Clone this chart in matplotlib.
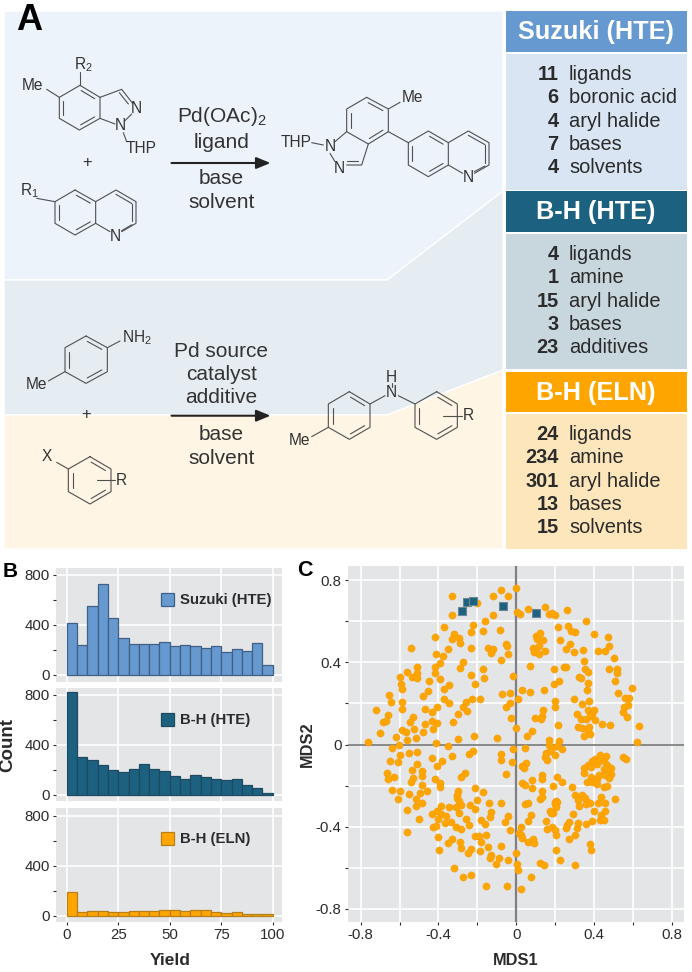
import matplotlib
matplotlib.use('Agg')
from matplotlib import pyplot as plt
from matplotlib.patches import Polygon, Rectangle
import numpy as np

plt.rcParams['font.family'] = ['Liberation Sans', 'DejaVu Sans']
plt.rcParams['mathtext.default'] = 'regular'

W, H = 692, 972
INK = '#2b2b2b'
SUZUKI, BH, ELN = '#6699CF', '#1C6180', '#FFA500'

# histogram counts, 5-wide yield bins
yield_edges = list(range(0, 100, 5))
suzuki_counts = [416, 237, 555, 731, 459, 299, 245, 250, 250, 261, 229, 237, 232, 216, 229, 181, 205, 195, 256, 83]
bh_counts = [820, 298, 279, 236, 197, 185, 209, 244, 209, 191, 147, 128, 153, 137, 126, 113, 128, 80, 51, 16]
eln_counts = [190, 29, 35, 40, 27, 29, 35, 35, 40, 45, 48, 37, 48, 45, 32, 19, 32, 16, 16, 16]

# MDS coordinates
bh_points = [(-0.28, 0.65), (-0.255, 0.695), (-0.22, 0.70), (-0.07, 0.675), (0.10, 0.64)]
eln_points = [
    (-0.76, 0.01), (-0.33, 0.72), (-0.08, 0.75), (0, 0.76), (-0.12, 0.72), (-0.04, 0.72), (-0.20, 0.69),
    (-0.33, 0.63), (-0.12, 0.63), (0.005, 0.645), (0.02, 0.635), (0.06, 0.66), (0.15, 0.67), (0.17, 0.635),
    (0.185, 0.64), (0.20, 0.63), (0.26, 0.655), (0.36, 0.60), (-0.16, 0.60), (-0.22, 0.58), (-0.37, 0.57),
    (-0.17, 0.55), (-0.085, 0.555), (-0.23, 0.545), (-0.32, 0.535), (-0.295, 0.52), (-0.33, 0.515),
    (-0.29, 0.495), (-0.42, 0.525), (-0.23, 0.47), (-0.54, 0.47), (-0.35, 0.465), (-0.145, 0.47),
    (-0.12, 0.465), (-0.13, 0.445), (-0.055, 0.49), (-0.045, 0.48), (-0.04, 0.44), (-0.415, 0.44),
    (-0.375, 0.43), (-0.077, 0.41), (-0.275, 0.40), (-0.39, 0.395), (-0.29, 0.37), (-0.42, 0.375),
    (-0.42, 0.35), (-0.51, 0.375), (-0.56, 0.355), (-0.51, 0.35), (-0.535, 0.33), (-0.51, 0.325),
    (-0.60, 0.33), (-0.45, 0.31), (-0.39, 0.32), (-0.23, 0.34), (-0.17, 0.365), (-0.165, 0.325),
    (-0.015, 0.335), (-0.595, 0.295), (-0.59, 0.27), (-0.21, 0.295), (-0.345, 0.29), (-0.37, 0.27),
    (-0.455, 0.26), (-0.655, 0.24), (-0.48, 0.235), (-0.645, 0.205), (-0.59, 0.205), (-0.585, 0.175),
    (-0.47, 0.175), (-0.72, 0.17), (-0.405, 0.18), (-0.37, 0.22), (-0.345, 0.20), (-0.225, 0.22),
    (-0.185, 0.22), (-0.26, 0.205), (-0.275, 0.18), (-0.255, 0.165), (-0.30, 0.15), (-0.075, 0.245),
    (-0.03, 0.25), (0.03, 0.265), (0.07, 0.255), (0.145, 0.265), (0.01, 0.22), (-0.03, 0.20),
    (-0.055, 0.18), (-0.025, 0.13), (-0.435, 0.16), (-0.66, 0.145), (-0.685, 0.11), (-0.67, 0.115),
    (-0.53, 0.135), (-0.545, 0.11), (-0.435, 0.115), (-0.41, 0.105), (-0.47, 0.10), (-0.325, 0.11),
    (-0.70, 0.055), (-0.585, 0.07), (-0.565, 0.06), (-0.525, 0.075), (-0.48, 0.06), (-0.43, 0.075),
    (-0.62, 0.035), (-0.515, 0.03), (-0.56, 0.02), (-0.215, 0.04), (-0.30, 0.025), (-0.10, 0.03),
    (0, 0.08), (0.08, 0.065), (0.055, 0.04), (0.135, 0.14), (0.095, 0.13), (0.14, 0.17), (0.13, 0.125),
    (0.215, 0.095), (0.20, 0.18), (0.20, 0.21), (0.295, 0.22), (0.22, 0.31), (0.195, 0.295),
    (0.195, 0.365), (0.07, 0.38), (0.245, 0.375), (0.255, 0.375), (0.325, 0.33), (0.335, 0.325),
    (0.35, 0.405), (0.355, 0.365), (0.37, 0.355), (0.37, 0.30), (0.365, 0.265), (0.375, 0.21),
    (0.34, 0.195), (0.37, 0.17), (0.40, 0.17), (0.39, 0.15), (0.315, 0.15), (0.335, 0.125), (0.36, 0.125),
    (0.38, 0.14), (0.405, 0.12), (0.32, 0.085), (0.34, 0.08), (0.375, 0.085), (0.37, 0.065), (0.35, 0.04),
    (0.38, 0.05), (0.44, 0.10), (0.485, 0.095), (0.63, 0.09), (0.62, 0.01), (0.57, 0.135), (0.55, 0.16),
    (0.555, 0.18), (0.575, 0.19), (0.56, 0.225), (0.58, 0.225), (0.595, 0.275), (0.525, 0.25), (0.51, 0.31),
    (0.52, 0.365), (0.52, 0.35), (0.475, 0.365), (0.505, 0.42), (0.455, 0.455), (0.42, 0.455), (0.475, 0.48),
    (0.47, 0.525), (0.40, 0.535), (0.345, 0.46), (0.305, 0.545), (0.28, 0.55), (0.265, 0.575), (0.215, 0.57),
    (0.225, 0.51), (0.275, 0.49), (0.255, 0.465), (0.295, 0.45), (0.10, 0.53), (0.125, 0.54), (0.105, 0.515),
    (0.14, 0.51), (0.115, 0.48), (0.085, 0.47), (0.095, 0.465), (0.09, 0.45), (0.115, 0.44), (0.147, 0.455),
    (0.17, 0.02), (0.22, 0.015), (0.17, 0), (0.21, -0.005), (0.235, -0.02), (0.185, -0.015), (0.175, -0.03),
    (0.155, -0.04), (0.20, -0.05), (0.147, -0.06), (0.16, -0.075), (-0.64, -0.015), (-0.605, 0), (-0.51, -0.035),
    (-0.55, -0.04), (-0.60, -0.05), (-0.415, 0.005), (-0.35, -0.005), (-0.015, -0.02), (0.045, -0.015),
    (-0.22, -0.03), (-0.245, -0.045), (-0.33, -0.055), (-0.435, -0.065), (-0.08, -0.045),
    (-0.65, -0.08), (-0.61, -0.085), (-0.51, -0.095), (-0.405, -0.105), (-0.38, -0.08), (-0.535, -0.125),
    (-0.485, -0.13), (-0.665, -0.14), (-0.63, -0.16), (-0.66, -0.17), (-0.53, -0.165), (-0.54, -0.18),
    (-0.485, -0.155), (-0.485, -0.195), (-0.42, -0.17), (-0.39, -0.185), (-0.39, -0.205), (-0.285, -0.16),
    (-0.265, -0.14), (-0.05, -0.145), (-0.08, -0.075), (-0.02, -0.085), (0.03, -0.105), (0.05, -0.09),
    (0.04, -0.115), (0.135, -0.15), (0.135, -0.17), (0.03, -0.185), (0.045, -0.195), (0.08, -0.175),
    (0.08, -0.21), (0.21, -0.16), (0.235, -0.18), (0.19, -0.20), (0.285, -0.205), (-0.64, -0.22), (-0.60, -0.225),
    (-0.55, -0.24), (-0.495, -0.235), (-0.46, -0.225), (-0.61, -0.265), (-0.515, -0.265), (-0.485, -0.285),
    (-0.515, -0.30), (-0.56, -0.32), (-0.50, -0.36), (-0.56, -0.425), (-0.435, -0.34), (-0.41, -0.325),
    (-0.385, -0.30), (-0.385, -0.34), (-0.40, -0.36), (-0.36, -0.35), (-0.365, -0.38), (-0.335, -0.375),
    (-0.43, -0.40), (-0.415, -0.395), (-0.345, -0.305), (-0.31, -0.305), (-0.295, -0.335), (-0.285, -0.295),
    (-0.30, -0.225), (-0.305, -0.245), (-0.305, -0.26), (-0.295, -0.275), (-0.31, -0.40), (-0.285, -0.41),
    (-0.26, -0.36), (-0.245, -0.39), (-0.24, -0.295), (-0.21, -0.315), (-0.20, -0.27), (-0.21, -0.21),
    (-0.17, -0.23), (-0.14, -0.285), (-0.08, -0.285), (-0.13, -0.33), (-0.135, -0.355), (-0.18, -0.365),
    (-0.16, -0.385), (-0.06, -0.375), (-0.04, -0.35), (-0.03, -0.415), (-0.40, -0.45), (-0.33, -0.46),
    (-0.35, -0.48), (-0.395, -0.515), (-0.29, -0.475), (-0.285, -0.505), (-0.23, -0.51), (-0.25, -0.53),
    (-0.21, -0.445), (-0.19, -0.445), (-0.155, -0.44), (-0.18, -0.475), (-0.185, -0.52), (-0.145, -0.50),
    (-0.08, -0.495), (-0.13, -0.535), (-0.135, -0.55), (-0.09, -0.55), (-0.04, -0.56), (-0.105, -0.58),
    (-0.32, -0.60), (0, -0.53), (0.005, -0.58), (0.01, -0.61), (-0.275, -0.645), (-0.23, -0.635),
    (-0.155, -0.69), (-0.045, -0.69), (0.025, -0.705), (0.075, -0.645), (0.025, -0.40), (0.015, -0.43),
    (0.025, -0.44), (0.03, -0.455), (0.06, -0.475), (0.085, -0.46), (0.09, -0.48), (0.06, -0.37),
    (0.075, -0.345), (0.045, -0.29), (0.06, -0.285), (0.125, -0.265), (0.135, -0.255), (0.135, -0.225),
    (0.205, -0.275), (0.20, -0.28), (0.21, -0.28), (0.20, -0.29), (0.205, -0.305), (0.175, -0.325),
    (0.19, -0.335), (0.18, -0.335), (0.155, -0.37), (0.16, -0.41), (0.185, -0.40), (0.20, -0.415),
    (0.205, -0.44), (0.205, -0.515), (0.225, -0.56), (0.125, -0.575), (0.145, -0.585), (0.30, -0.585),
    (0.27, -0.46), (0.305, -0.44), (0.315, -0.405), (0.32, -0.38), (0.27, -0.375), (0.26, -0.39),
    (0.255, -0.405), (0.29, -0.34), (0.36, -0.385), (0.39, -0.37), (0.38, -0.485), (0.385, -0.515),
    (0.30, -0.245), (0.34, -0.245), (0.32, -0.27), (0.355, -0.26), (0.325, -0.30), (0.365, -0.28),
    (0.36, -0.29), (0.38, -0.285), (0.42, -0.285), (0.40, -0.325), (0.435, -0.255), (0.455, -0.285),
    (0.51, -0.265), (0.455, -0.325), (0.435, -0.345), (0.43, -0.365), (0.45, -0.365),
    (0.35, -0.115), (0.35, -0.14), (0.37, -0.10), (0.39, -0.08), (0.385, -0.11), (0.405, -0.07),
    (0.415, -0.095), (0.43, -0.05), (0.42, -0.08), (0.46, -0.055), (0.45, -0.08), (0.465, -0.10),
    (0.49, -0.115), (0.45, -0.12), (0.465, -0.13), (0.49, -0.145), (0.455, -0.15), (0.475, -0.165),
    (0.385, -0.16), (0.365, -0.18), (0.39, -0.18), (0.415, -0.17), (0.425, -0.15), (0.415, -0.19),
    (0.45, -0.205), (0.465, -0.20), (0.55, -0.06), (0.565, -0.07),
]

# side tables
suzuki_numbers = ['11', '6', '4', '7', '4']
suzuki_labels = ['ligands', 'boronic acid', 'aryl halide', 'bases', 'solvents']
bh_numbers = ['4', '1', '15', '3', '23']
bh_labels = ['ligands', 'amine', 'aryl halide', 'bases', 'additives']
eln_numbers = ['24', '234', '301', '13', '15']
eln_labels = ['ligands', 'amine', 'aryl halide', 'bases', 'solvents']

fig = plt.figure(figsize=(W / 100, H / 100), dpi=100, facecolor='white')


def axes_px(x0, y0, x1, y1):
    return fig.add_axes([x0 / W, 1 - y1 / H, (x1 - x0) / W, (y1 - y0) / H])


def style(ax):
    ax.set_facecolor('#E4E5E7')
    for s in ax.spines.values():
        s.set_visible(False)
    ax.set_axisbelow(True)
    ax.grid(True, which='major', color='white', lw=1.2)
    ax.tick_params(which='both', length=2.5, width=0.8, color=INK, labelcolor=INK, labelsize=10.8, pad=2)


# panel B
hist_rows = [
    (568, 682, -56, 856, suzuki_counts, SUZUKI, '#3F5F85'),
    (688, 801, -52, 856, bh_counts, BH, '#1D4A60'),
    (808, 922, -50, 864, eln_counts, ELN, '#B67F1C'),
]
for i, (top, bottom, ylo, yhi, counts, colour, edge) in enumerate(hist_rows):
    ax = axes_px(56, top, 282, bottom)
    style(ax)
    ax.bar(yield_edges, counts, width=5, align='edge', color=colour, edgecolor=edge, lw=0.9)
    ax.set_xlim(-5.2, 104.5)
    ax.set_ylim(ylo, yhi)
    ax.set_yticks([0, 400, 800])
    ax.set_yticks([200, 600], minor=True)
    ax.grid(False, which='minor')
    ax.set_xticks([0, 25, 50, 75, 100])
    if i < 2:
        ax.tick_params(axis='x', length=0, labelbottom=False)

# panel C
ax = axes_px(347.7, 566, 684, 922)
style(ax)
ax.set_xlim(-0.8 - 13 * 0.8 / 155.5, 0.8 + 12.3 * 0.8 / 155.5)
ax.set_ylim(-0.8 - 13 * 0.8 / 164.5, 0.8 + 14 * 0.8 / 164.5)
major = [-0.8, -0.4, 0, 0.4, 0.8]
minor = [-0.6, -0.2, 0.2, 0.6]
ax.set_xticks(major, ['-0.8', '-0.4', '0', '0.4', '0.8'])
ax.set_yticks(major, ['-0.8', '-0.4', '0', '0.4', '0.8'])
ax.set_xticks(minor, minor=True)
ax.set_yticks(minor, minor=True)
ax.grid(True, which='minor', color='white', lw=1.2)
ax.axhline(0, color='#808080', lw=1.3, zorder=1.5)
ax.axvline(0, color='#808080', lw=1.6, zorder=1.5)
ax.scatter(*zip(*eln_points), s=27, color=ELN, edgecolors='#F09A10', lw=0.3, zorder=3)
ax.scatter(*zip(*bh_points), s=38, marker='s', color=BH, edgecolors='#6F8793', lw=0.8, zorder=4)

# everything in pixel coordinates: panel A, labels, swatches
px = fig.add_axes([0, 0, 1, 1], zorder=5)
px.set_xlim(0, W)
px.set_ylim(H, 0)
px.axis('off')
px.patch.set_alpha(0)

backgrounds = [
    ('#EDF3FB', [(4, 11), (503, 11), (503, 191), (387, 280), (4, 280)]),
    ('#E5EDF2', [(4, 280), (387, 280), (503, 191), (503, 370), (387, 415), (4, 415)]),
    ('#FEF5E4', [(4, 415), (387, 415), (503, 370), (503, 549), (4, 549)]),
]
for colour, verts in backgrounds:
    px.add_patch(Polygon(verts, closed=True, fc=colour, ec='white', lw=1))

tables = [
    (11, 52, 54, 190, SUZUKI, '#D9E5F3', 'Suzuki (HTE)', suzuki_numbers, suzuki_labels),
    (191, 232, 234, 369, BH, '#C8D6DE', 'B-H (HTE)', bh_numbers, bh_labels),
    (372, 412, 414, 549, ELN, '#FDE6BC', 'B-H (ELN)', eln_numbers, eln_labels),
]
for head_top, head_bot, body_top, body_bot, head_c, body_c, title, numbers, labels in tables:
    px.add_patch(Rectangle((505.5, head_top), 181, head_bot - head_top, fc=head_c, ec='none'))
    px.add_patch(Rectangle((505.5, body_top), 181, body_bot - body_top, fc=body_c, ec='none'))
    px.text(596, (head_top + head_bot) / 2 + 0.5, title, color='white', fontsize=18.2, fontweight='bold',
            ha='center', va='center')
    for j, (num, lab) in enumerate(zip(numbers, labels)):
        y = body_top + 20.5 + j * 23.3
        px.text(558.5, y, num, color=INK, fontsize=14.4, fontweight='bold', ha='right', va='center')
        px.text(569, y, lab, color=INK, fontsize=14.4, ha='left', va='center')


# structures are drawn in a 3x working grid, matching crops of the panel
def seg(pts, oy=0, lw=0.8):
    px.plot([p[0] / 3 for p in pts], [p[1] / 3 + oy for p in pts], color='#505050', lw=lw, solid_capstyle='round')


def ring(verts, doubles, oy=0):
    seg(list(verts) + [verts[0]], oy)
    cx = np.mean([v[0] for v in verts])
    cy = np.mean([v[1] for v in verts])
    for i in doubles:
        a, b = np.array(verts[i], float), np.array(verts[(i + 1) % len(verts)], float)
        c = np.array([cx, cy])
        a2 = a + (c - a) * 0.2
        b2 = b + (c - b) * 0.2
        m = (a2 + b2) / 2
        a2 = m + (a2 - m) * 0.85
        b2 = m + (b2 - m) * 0.85
        seg([a2, b2], oy)


def atom(x, y, s, oy=0, size=11.2):
    px.text(x / 3, y / 3 + oy, s, color='#333333', fontsize=size, ha='center', va='center')


# reaction 1, indazole
ring([(240, 256), (300, 292), (300, 355), (238, 390), (178, 355), (178, 292)], [0, 2, 4])
seg([(178, 292), (140, 268)])
seg([(240, 256), (240, 215)])
seg([(300, 292), (365, 268), (398, 310)])
seg([(358, 278), (385, 312)])
seg([(300, 355), (345, 372)])
seg([(395, 342), (375, 362)])
seg([(370, 398), (380, 425)])
atom(97, 257, 'Me')
atom(250, 193, 'R$_2$')
atom(408, 325, 'N')
atom(362, 378, 'N')
atom(423, 445, 'THP')
atom(260, 487, '+', size=12)
# reaction 1, quinoline
ring([(225, 570), (287, 605), (287, 670), (225, 705), (165, 670), (165, 605)], [0, 2, 4])
seg([(287, 605), (348, 570), (408, 605), (408, 670), (365, 695)])
seg([(348, 583), (396, 611)])
seg([(396, 613), (396, 662)])
seg([(396, 674), (365, 692)])
seg([(287, 670), (330, 695)])
seg([(110, 595), (165, 605)])
atom(88, 573, 'R$_1$')
atom(347, 708, 'N')
# reaction 1, product
ring([(1100, 292), (1165, 327), (1165, 395), (1105, 432), (1040, 395), (1040, 327)], [0, 2, 4])
seg([(1165, 327), (1200, 307)])
seg([(1105, 432), (1085, 495), (1040, 495)])
seg([(1075, 482), (1040, 482)])
seg([(1040, 395), (1005, 425)])
seg([(935, 428), (970, 435)])
seg([(990, 460), (1005, 485)])
seg([(1165, 395), (1225, 428)])
ring([(1225, 428), (1285, 393), (1345, 428), (1345, 495), (1285, 530), (1225, 495)], [1, 3, 5])
seg([(1345, 428), (1405, 393), (1467, 428), (1467, 495), (1423, 520)])
seg([(1405, 406), (1455, 434)])
seg([(1455, 436), (1455, 488)])
seg([(1455, 498), (1423, 515)])
seg([(1345, 495), (1388, 520)])
atom(1237, 293, 'Me')
atom(888, 427, 'THP')
atom(990, 440, 'N')
atom(1017, 505, 'N')
atom(1405, 533, 'N')

# reaction 2
oy2 = 280
ring([(258, 168), (322, 203), (322, 275), (258, 310), (195, 275), (195, 203)], [0, 2, 4], oy2)
seg([(322, 203), (360, 183)], oy2)
seg([(195, 275), (145, 303)], oy2)
atom(412, 172, 'NH$_2$', oy2)
atom(110, 312, 'Me', oy2)
atom(258, 402, '+', oy2, size=12)
ring([(270, 530), (333, 567), (333, 635), (270, 672), (205, 635), (205, 567)], [0, 2, 4], oy2)
seg([(170, 547), (205, 567)], oy2)
seg([(292, 600), (345, 600)], oy2)
atom(142, 530, 'X', oy2)
atom(365, 602, 'R', oy2)
ring([(1048, 335), (1110, 372), (1110, 442), (1048, 478), (985, 442), (985, 372)], [0, 2, 4], oy2)
ring([(1310, 335), (1372, 372), (1372, 442), (1310, 478), (1245, 442), (1245, 372)], [0, 2, 4], oy2)
seg([(985, 442), (935, 470)], oy2)
seg([(1110, 372), (1155, 347)], oy2)
seg([(1195, 347), (1245, 372)], oy2)
seg([(1175, 308), (1175, 322)], oy2)
seg([(1330, 407), (1385, 407)], oy2)
atom(898, 482, 'Me', oy2)
atom(1175, 338, 'N', oy2)
atom(1175, 293, 'H', oy2)
atom(1405, 407, 'R', oy2)

# arrows and conditions
for y in (163, 415.7):
    px.annotate('', xy=(270.5, y), xytext=(171.5, y),
                arrowprops=dict(arrowstyle='-|>,head_width=0.35,head_length=0.85', color='#222222', lw=1.5,
                                shrinkA=0, shrinkB=0))
conditions = [('Pd(OAc)$_2$', 117), ('ligand', 142), ('base', 179), ('solvent', 202),
              ('Pd source', 351), ('catalyst', 374), ('additive', 397), ('base', 434), ('solvent', 458)]
for s, y in conditions:
    px.text(221.5, y, s, color='#333333', fontsize=15, ha='center', va='center')

# legends in panel B
swatches = [(592.7, 'Suzuki (HTE)', SUZUKI, '#3F5F85'), (713, 'B-H (HTE)', BH, '#1D4A60'), (832, 'B-H (ELN)', ELN, '#B67F1C')]
for y, s, colour, edge in swatches:
    px.add_patch(Rectangle((161, y), 12.5, 13, fc=colour, ec=edge, lw=0.9))
    px.text(180.5, y + 7, s, color=INK, fontsize=10.7, fontweight='bold', ha='left', va='center')

# panel letters and axis titles
px.text(29, 21, 'A', color='black', fontsize=26, fontweight='bold', ha='center', va='center')
px.text(10, 571, 'B', color='black', fontsize=15, fontweight='bold', ha='center', va='center')
px.text(305, 570, 'C', color='black', fontsize=15.5, fontweight='bold', ha='center', va='center')
px.text(8, 745, 'Count', color=INK, fontsize=13.5, fontweight='bold', rotation=90, ha='center', va='center')
px.text(170, 960, 'Yield', color=INK, fontsize=12.5, fontweight='bold', ha='center', va='center')
px.text(515.5, 960, 'MDS1', color=INK, fontsize=11.8, fontweight='bold', ha='center', va='center')
px.text(307, 744, 'MDS2', color=INK, fontsize=11.8, fontweight='bold', rotation=90, ha='center', va='center')

fig.savefig('out.png', dpi=100)
